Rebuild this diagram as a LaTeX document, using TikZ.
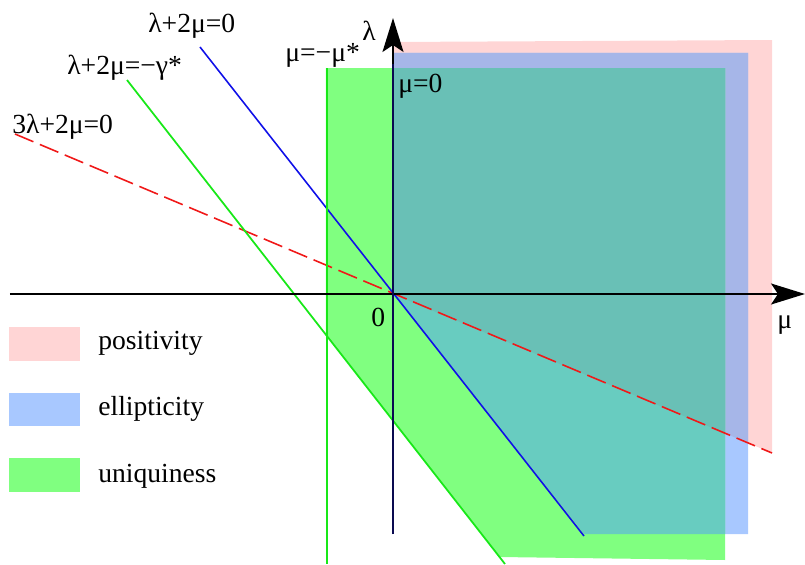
\documentclass[tikz,border=0pt]{standalone}
\usepackage{fontspec}
\setmainfont{Liberation Serif}
\usetikzlibrary{arrows.meta}
\definecolor{posfill}{HTML}{FFD5D5}
\definecolor{ellfill}{HTML}{A8C8FF}
\definecolor{unifill}{HTML}{80FF80}
\definecolor{posell}{HTML}{A6B6E8}
\definecolor{elluni}{HTML}{68CCC0}
\definecolor{alluni}{HTML}{69C0B6}
\definecolor{axisnavy}{HTML}{0A0A50}
\definecolor{lnred}{HTML}{F01818}
\definecolor{lnblue}{HTML}{1010E8}
\definecolor{lngreen}{HTML}{18E818}
\newcommand{\posarea}{(0,2.52) -- (3.79,2.54) -- (3.79,-1.59) -- (0,0) -- cycle}
\newcommand{\ellarea}{(0,2.41) -- (3.55,2.41) -- (3.55,-2.40) -- (1.91,-2.40) -- (0,0) -- cycle}
\newcommand{\uniarea}{(-0.67,2.26) -- (3.32,2.26) -- (3.32,-2.66) -- (1.065,-2.63) -- (-0.67,-0.408) -- cycle}

\begin{document}
\begin{tikzpicture}[x=2cm,y=2cm,
  lbl/.style={font=\fontsize{15.7}{18}\selectfont,text=black,anchor=base west,inner sep=0pt},
  axisline/.style={line width=1.1pt,-{Stealth[length=0.68cm,width=0.42cm,inset=0.14cm]}},
  redline/.style={lnred,line width=0.9pt,dash pattern=on 0.4cm off 0.14cm},
  blueline/.style={lnblue,line width=0.9pt},
  greenline/.style={lngreen,line width=1.0pt}]
\useasboundingbox (-3.93,-2.70) rectangle (4.12,2.94);
\fill[posfill] \posarea;
\fill[ellfill] \ellarea;
\begin{scope}
  \clip \posarea;
  \fill[posell] \ellarea;
\end{scope}
\fill[unifill] \uniarea;
\begin{scope}
  \clip \ellarea;
  \fill[elluni] \uniarea;
  \clip \posarea;
  \fill[alluni] \uniarea;
\end{scope}
\coordinate (rA) at (-3.78,1.60);  \coordinate (rB) at (3.79,-1.59);
\coordinate (bA) at (-1.93,2.47);  \coordinate (bB) at (1.91,-2.42);
\coordinate (gA) at (-2.66,2.14);  \coordinate (gB) at (1.12,-2.70);
\coordinate (vA) at (-0.66,2.26);  \coordinate (vB) at (-0.66,-2.70);
\draw[redline] (rA) -- (rB);
\draw[blueline] (bA) -- (bB);
\draw[greenline] (gA) -- (gB);
\draw[greenline,line width=1.6pt] (vA) -- (vB);
\coordinate (muA) at (-3.83,0);   \coordinate (muB) at (4.12,0);
\coordinate (laA) at (0,-2.40);   \coordinate (laM) at (0,2.30);   \coordinate (laB) at (0,2.76);
\draw[lnblue,line width=1.6pt] (laA) -- (laM);
\draw[axisline] (muA) -- (muB);
\draw[axisnavy,line width=1.1pt] (laA) -- (laM);
\draw[axisline] (laM) -- (laB);
\node[lbl] (lalbl) at (-0.31,2.54) {λ};
\node[lbl] (mulbl) at (3.84,-0.34) {μ};
\node[lbl] (zero) at (-0.22,-0.32) {0};
\node[lbl] (mu0) at (0.05,2.02) {μ=0};
\node[lbl] (mustar) at (-1.08,2.32) {μ=−μ*};
\node[lbl] (blueeq) at (-2.45,2.62) {λ+2μ=0};
\node[lbl] (greeneq) at (-3.26,2.20) {λ+2μ=−γ*};
\node[lbl] (redeq) at (-3.81,1.61) {3λ+2μ=0};
\fill[posfill] (-3.84,-0.33) rectangle (-3.13,-0.67);
\node[lbl] (poslbl) at (-2.95,-0.55) {positivity};
\fill[ellfill] (-3.84,-0.99) rectangle (-3.13,-1.32);
\node[lbl] (elllbl) at (-2.95,-1.21) {ellipticity};
\fill[unifill] (-3.84,-1.64) rectangle (-3.13,-1.98);
\node[lbl] (unilbl) at (-2.95,-1.88) {uniquiness};
\end{tikzpicture}
\end{document}
